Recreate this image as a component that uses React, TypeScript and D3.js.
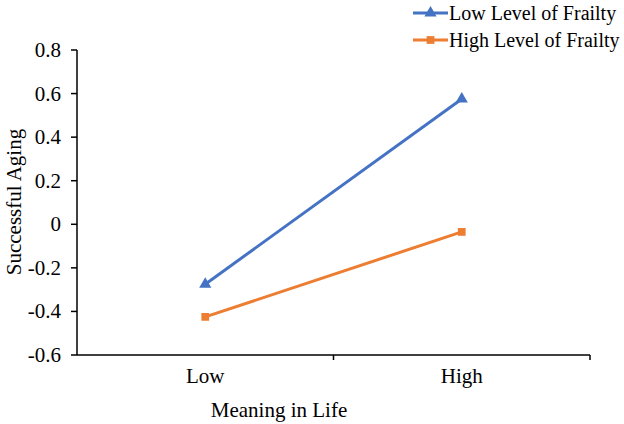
import React from "react";
import * as d3 from "d3";

const categories = ["Low", "High"];
const lowFrailty = [-0.275, 0.575];
const highFrailty = [-0.425, -0.035];
const yTicks = [-0.6, -0.4, -0.2, 0, 0.2, 0.4, 0.6, 0.8];
const seriesNames = ["Low Level of Frailty", "High Level of Frailty"];

const font = "'Liberation Serif'";
const fs = 21;
const left = 77;
const right = 590;
const top = 50;
const bottom = 355;
const colors = ["#4472C4", "#ED7D31"];

const x = d3.scaleBand<string>().domain(categories).range([left, right]);
const y = d3.scaleLinear().domain([-0.6, 0.8]).range([bottom, top]);
const cx = (i: number) => (x(categories[i]) as number) + x.bandwidth() / 2;
const line = d3
  .line<number>()
  .x((_, i) => cx(i))
  .y((d) => y(d));
const shapes = [
  d3.symbol().type(d3.symbolTriangle).size(64)() as string,
  d3.symbol().type(d3.symbolSquare).size(60)() as string,
];
const series = [lowFrailty, highFrailty];
const fmt = (v: number) => (Math.abs(v) < 1e-9 ? "0" : v.toFixed(1));

const App: React.FC = () => {
  const textStyle = { fontFamily: font, fontSize: `${fs}px` };
  const legendStyle = { fontFamily: font, fontSize: "20px" };
  const xTicks = [right, ...categories.slice(1).map((c) => x(c) as number)];
  return (
    <svg
      width={624}
      height={424}
      style={{ position: "absolute", left: 0, top: 0, background: "#fff" }}
    >
      {/* y axis */}
      <line x1={left} x2={left} y1={top} y2={bottom} stroke="#000" strokeWidth={1.5} />
      {yTicks.map((t) => (
        <g key={t}>
          <line x1={left - 6} x2={left} y1={y(t)} y2={y(t)} stroke="#000" strokeWidth={1.5} />
          <text x={left - 16} y={y(t)} dy="0.33em" textAnchor="end" style={textStyle}>
            {fmt(t)}
          </text>
        </g>
      ))}
      {/* x axis */}
      <line x1={left} x2={right} y1={bottom} y2={bottom} stroke="#000" strokeWidth={1.5} />
      {xTicks.map((t) => (
        <line key={t} x1={t} x2={t} y1={bottom} y2={bottom + 5} stroke="#000" strokeWidth={1.5} />
      ))}
      {categories.map((c, i) => (
        <text key={c} x={cx(i)} y={bottom + 28} textAnchor="middle" style={textStyle}>
          {c}
        </text>
      ))}
      <text x={279} y={417} textAnchor="middle" style={textStyle}>
        Meaning in Life
      </text>
      <text transform="translate(21,202) rotate(-90)" textAnchor="middle" style={textStyle}>
        Successful Aging
      </text>
      {/* series */}
      {series.map((s, k) => (
        <g key={k}>
          <path d={line(s) as string} fill="none" stroke={colors[k]} strokeWidth={3} />
          {s.map((v, i) => (
            <path key={i} d={shapes[k]} transform={`translate(${cx(i)},${y(v)})`} fill={colors[k]} />
          ))}
        </g>
      ))}
      {/* legend */}
      {seriesNames.map((name, k) => {
        const ly = 13 + k * 27;
        return (
          <g key={name}>
            <line x1={413} x2={448} y1={ly} y2={ly} stroke={colors[k]} strokeWidth={3} />
            <path d={shapes[k]} transform={`translate(430.5,${ly})`} fill={colors[k]} />
            <text x={449} y={ly + 7} style={legendStyle}>
              {name}
            </text>
          </g>
        );
      })}
    </svg>
  );
};

export default App;
